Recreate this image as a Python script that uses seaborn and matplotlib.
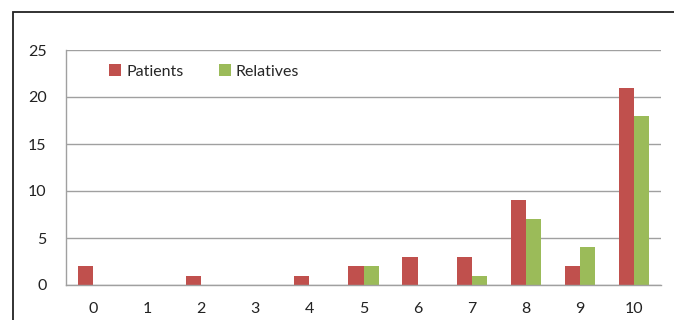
import numpy as np
import pandas as pd
import matplotlib
matplotlib.use("Agg")
import matplotlib.pyplot as plt
from matplotlib.patches import Rectangle
import seaborn as sns

# data
categories = ["0", "1", "2", "3", "4", "5", "6", "7", "8", "9", "10"]
patients = [2, 0, 1, 0, 1, 2, 3, 3, 9, 2, 21]
relatives = [0, 0, 0, 0, 0, 2, 0, 1, 7, 4, 18]
series_names = ["Patients", "Relatives"]
colors = ["#C0504D", "#9BBB59"]

df = pd.DataFrame({
    "score": categories * 2,
    "count": patients + relatives,
    "group": [series_names[0]] * len(categories) + [series_names[1]] * len(categories),
})

sns.set_style("white")
plt.rcParams["font.family"] = ["Lato", "DejaVu Sans"]

fig = plt.figure(figsize=(6.74, 3.2), dpi=100)
ax = fig.add_axes([66 / 674, 1 - 285 / 320, 595 / 674, 235 / 320])

sns.barplot(data=df, x="score", y="count", hue="group", order=categories,
            hue_order=series_names, palette=colors, width=0.56, gap=0,
            saturation=1, linewidth=0, ax=ax, legend=True)

grid_c = "#a0a0a0"
ax.set_ylim(0, 25)
ax.set_yticks([0, 5, 10, 15, 20, 25])
ax.yaxis.grid(True, color=grid_c, lw=1)
ax.set_axisbelow(True)
ax.set_xlim(-0.5, len(categories) - 0.5)
ax.set_xticks(np.arange(-0.5, len(categories), 1.0), minor=True)
ax.tick_params(axis="x", which="major", length=0, pad=12, labelsize=11.5, colors="#222222")
ax.tick_params(axis="x", which="minor", length=5, width=1, color=grid_c, direction="out")
ax.tick_params(axis="y", length=6, width=1, color=grid_c, direction="out", pad=8,
               labelsize=11.5, labelcolor="#222222")
ax.set_xlabel("")
ax.set_ylabel("")
for s in ["top", "right"]:
    ax.spines[s].set_visible(False)
for s in ["left", "bottom"]:
    ax.spines[s].set_color(grid_c)
    ax.spines[s].set_linewidth(1)

ax.legend(loc="upper left", bbox_to_anchor=(95 / 674, 1 - 50 / 320),
          bbox_transform=fig.transFigure, ncol=2, frameon=False,
          handlelength=0.75, handleheight=0.75, handletextpad=0.3,
          columnspacing=2.2, fontsize=11.5)

# outer chart frame
fig.patches.append(Rectangle((13 / 674, -0.2), 1.2, 1.2 - 12 / 320,
                             transform=fig.transFigure, fill=False,
                             edgecolor="#222222", lw=1.3, zorder=0))

fig.savefig("out.png", dpi=100)
